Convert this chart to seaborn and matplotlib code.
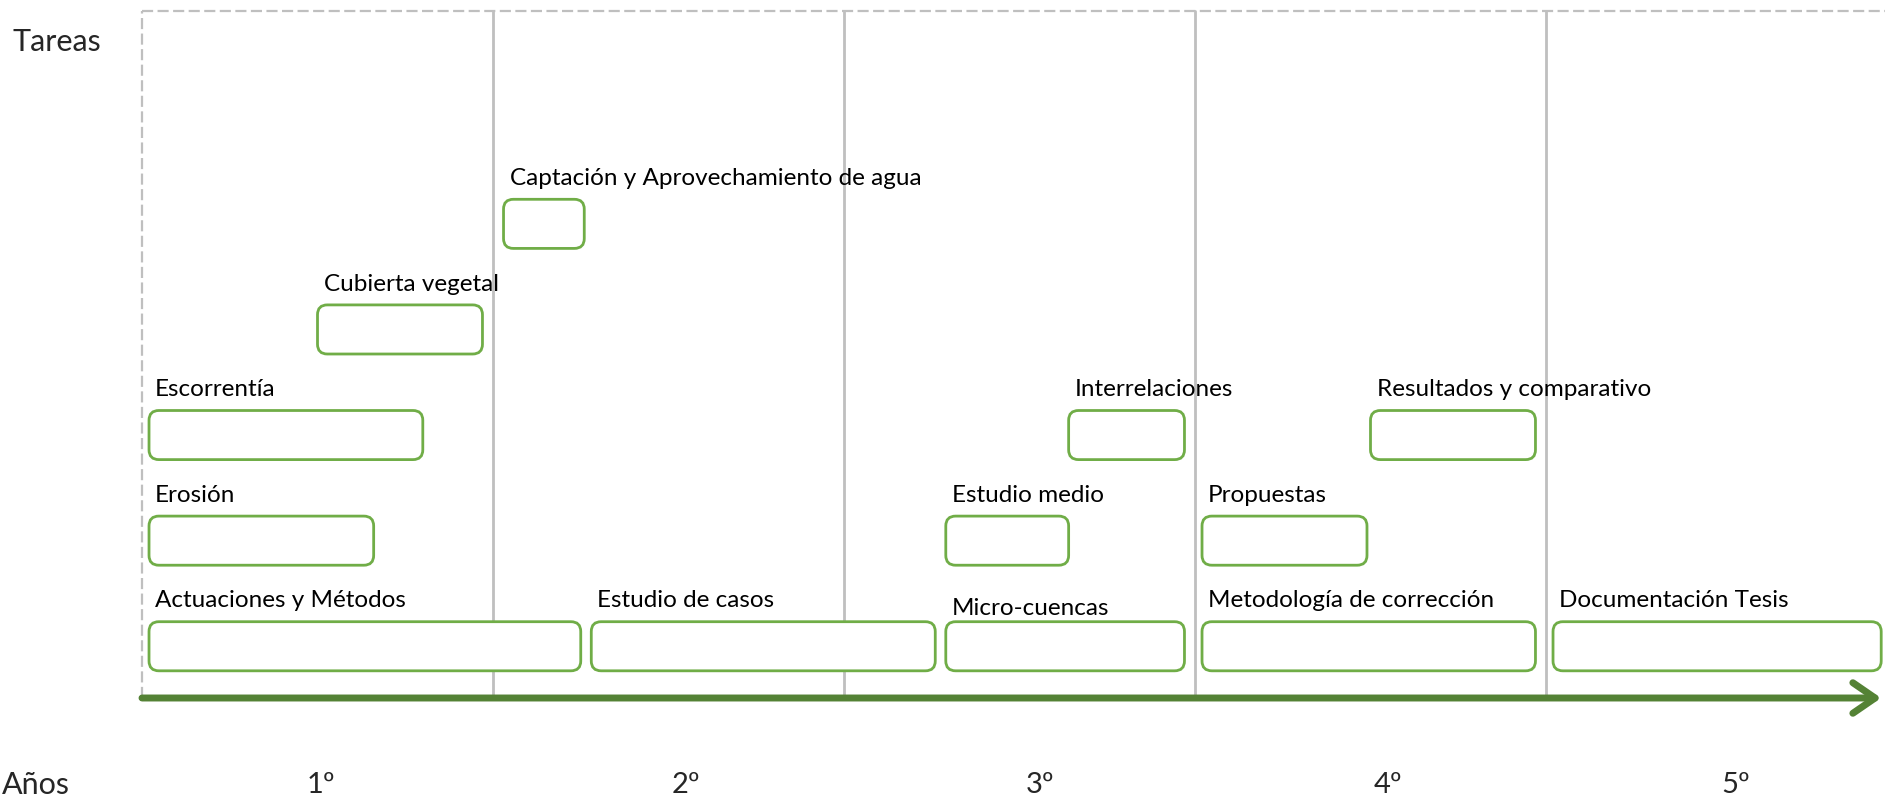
import matplotlib
matplotlib.use('Agg')
import matplotlib.pyplot as plt
from matplotlib.patches import FancyBboxPatch
import seaborn as sns
import pandas as pd

# task data (years on the x axis, row = lane above the time axis)
tasks = ['Actuaciones y Métodos', 'Estudio de casos', 'Micro-cuencas',
         'Metodología de corrección', 'Documentación Tesis',
         'Erosión', 'Estudio medio', 'Propuestas',
         'Escorrentía', 'Interrelaciones', 'Resultados y comparativo',
         'Cubierta vegetal',
         'Captación y Aprovechamiento de agua']
starts = [0.02, 1.28, 2.29, 3.02, 4.02,
          0.02, 2.29, 3.02,
          0.02, 2.64, 3.50,
          0.50,
          1.03]
ends = [1.25, 2.26, 2.97, 3.97, 4.955,
        0.66, 2.64, 3.49,
        0.80, 2.97, 3.97,
        0.97,
        1.26]
rows = [0, 0, 0, 0, 0,
        1, 1, 1,
        2, 2, 2,
        3,
        4]
years = ['1º', '2º', '3º', '4º', '5º']
year_label_x = [0.51, 1.55, 2.56, 3.55, 4.54]

df = pd.DataFrame({'task': tasks, 'start': starts, 'end': ends, 'row': rows})

# layout (pixels)
W, H, DPI = 1885, 805, 100
X0, PX = 142, 351        # x pixel of year 0, pixels per year
Y0, PY = 698, 105.6      # y pixel of time axis, pixels per lane

GREEN_BOX = '#70AD47'
GREEN_AXIS = '#548235'
GREY = '#BFBFBF'

sns.set_style("white")
plt.rcParams['font.family'] = ['Lato', 'DejaVu Sans']

fig = plt.figure(figsize=(W / DPI, H / DPI), dpi=DPI)
ax = fig.add_axes([0, 0, 1, 1])
ax.set_xlim(-X0 / PX, (W - X0) / PX)
ax.set_ylim(-(H - Y0) / PY, Y0 / PY)
ax.axis('off')

top = (Y0 - 11) / PY

# dashed frame (top and left)
ax.plot([0, (W - X0) / PX], [top, top], color=GREY, lw=1.6, ls=(0, (5, 2)))
ax.plot([0, 0], [0, top], color=GREY, lw=1.6, ls=(0, (5, 2)))

# year separators
for yr in range(1, 5):
    ax.plot([yr, yr], [0, top], color=GREY, lw=2.0)

# time axis arrow
ax.annotate('', xy=(4.955, 0), xytext=(0, 0),
            arrowprops=dict(arrowstyle='->,head_length=0.8,head_width=0.55',
                            lw=5, color=GREEN_AXIS, mutation_scale=20,
                            shrinkA=0, shrinkB=0))

# task boxes
box_h = 0.465
aspect = PX / PY
for _, r in df.iterrows():
    yc = r['row'] + 0.49
    box = FancyBboxPatch((r['start'], yc - box_h / 2), r['end'] - r['start'], box_h,
                         boxstyle='round,pad=0,rounding_size=0.028',
                         mutation_aspect=aspect,
                         facecolor='white', edgecolor=GREEN_BOX, lw=2.0, zorder=3)
    ax.add_patch(box)
    dy = 0.36 if r['task'] == 'Micro-cuencas' else 0.43
    ax.text(r['start'] + 6 / PX, yc + dy, r['task'], fontsize=17.5,
            ha='left', va='center', color='black', zorder=4)

# headers and year labels
ax.text(-130 / PX, (Y0 - 42) / PY, 'Tareas', fontsize=22, ha='left', va='center')
ax.text(-106 / PX, -(785 - Y0) / PY, 'Años', fontsize=22, ha='center', va='center')
for lbl, x in zip(years, year_label_x):
    ax.text(x, -(785 - Y0) / PY, lbl, fontsize=21, ha='center', va='center')

fig.savefig('out.png', dpi=DPI)
